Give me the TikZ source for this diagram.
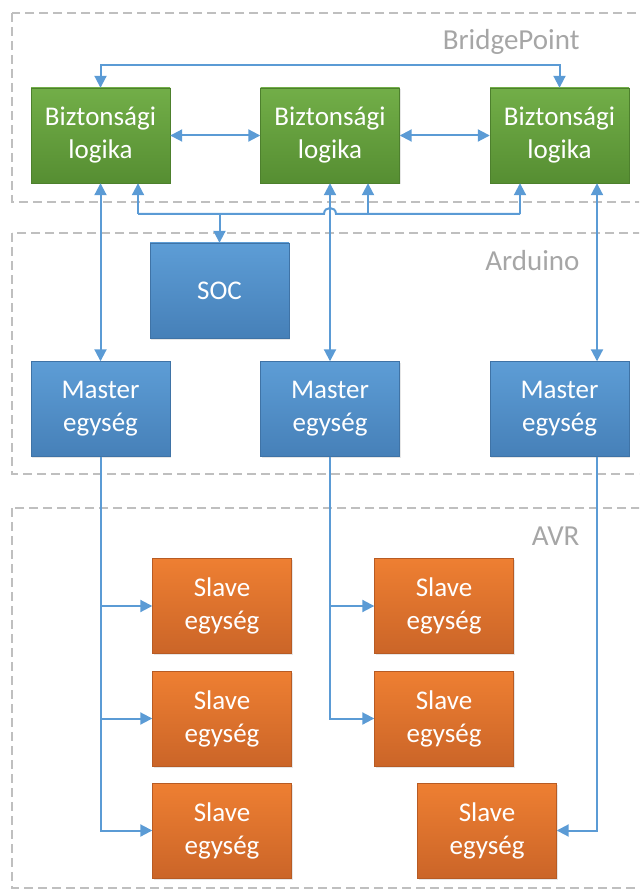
\documentclass[tikz,border=0pt]{standalone}
\usepackage{fontspec}
\setmainfont{Carlito}
\usetikzlibrary{arrows.meta,shadows}

\definecolor{linkblue}{RGB}{91,155,213}
\definecolor{framegray}{RGB}{191,191,191}
\definecolor{labelgray}{RGB}{166,166,166}
\definecolor{greentop}{RGB}{114,174,72}
\definecolor{greenbot}{RGB}{86,142,50}
\definecolor{bluetop}{RGB}{93,157,214}
\definecolor{bluebot}{RGB}{70,128,184}
\definecolor{orangetop}{RGB}{238,127,50}
\definecolor{orangebot}{RGB}{203,101,40}

\begin{document}
\begin{tikzpicture}[x=1pt, y=-1pt,
		unit/.style={minimum width=139pt, minimum height=95pt, inner sep=0pt, align=center,
			text=white, font=\fontsize{27}{33}\selectfont,
			drop shadow={opacity=0.2, shadow xshift=1pt, shadow yshift=-1.5pt}},
		logic/.style={unit, draw=greenbot!90!black, top color=greentop, bottom color=greenbot},
		master/.style={unit, draw=bluebot!90!black, top color=bluetop, bottom color=bluebot},
		slave/.style={unit, draw=orangebot!90!black, top color=orangetop, bottom color=orangebot},
		link/.style={draw=linkblue, line width=2pt, >={Triangle[width=12pt,length=12pt]}},
		frame/.style={draw=framegray, line width=1.2pt, dash pattern=on 9pt off 5pt},
		grouplabel/.style={text=labelgray, font=\fontsize{29}{34}\selectfont, anchor=base east}]
			\useasboundingbox (0,0) rectangle (639,890);
			
			% Dashed groups
			\begin{scope}
				\clip (0,0) rectangle (639,890);
				\draw[frame] (12,13) rectangle (660,202);
				\draw[frame] (12,233) rectangle (660,474);
				\draw[frame] (12,508) rectangle (660,888);
			\end{scope}
			\node[grouplabel] (lblBP) at (583,50) {BridgePoint};
			\node[grouplabel] (lblAR) at (583,270) {Arduino};
			\node[grouplabel] (lblAVR) at (583,545) {AVR};
			
			% Nodes - BridgePoint
			\node[logic] (BL1) at (100.5,135.5) {Biztonsági\\logika};
			\node[logic] (BL2) at (330,135.5) {Biztonsági\\logika};
			\node[logic] (BL3) at (559.5,135.5) {Biztonsági\\logika};
			
			% Nodes - Arduino
			\node[master] (SOC) at (219.5,290.5) {SOC};
			\node[master] (M1) at (100.5,409) {Master\\egység};
			\node[master] (M2) at (330,409) {Master\\egység};
			\node[master] (M3) at (559.5,409) {Master\\egység};
			
			% Nodes - AVR
			\node[slave] (S1) at (222,606) {Slave\\egység};
			\node[slave] (S2) at (222,718.5) {Slave\\egység};
			\node[slave] (S3) at (222,830.5) {Slave\\egység};
			\node[slave] (S4) at (444,606) {Slave\\egység};
			\node[slave] (S5) at (444,718.5) {Slave\\egység};
			\node[slave] (S6) at (487,830.5) {Slave\\egység};
			
			% Bus points
			\coordinate (busL) at (138,214);
			\coordinate (busS) at (219.5,214);
			\coordinate (busM) at (368,214);
			\coordinate (busR) at (520,214);
			
			% Edges - logic ring
			\draw[link,<->] (BL1.north) -- ++(0,-23) -| (BL3.north);
			\draw[link,<->] (BL1) -- (BL2); \draw[link,<->] (BL2) -- (BL3);
			
			% Edges - logic to master
			\draw[link,<->] (BL1) -- (M1); \draw[link,<->] (BL2) -- (M2);
			\draw[link,<->] ([xshift=37.5pt]BL3.south) -- ([xshift=37.5pt]M3.north);
			
			% Edges - SOC bus (hops over the middle line)
			\draw[link] (busL) -- (324,214) .. controls (324,206) and (336,206) .. (336,214) -- (busR);
			\draw[link,->] (busL) -- (busL |- BL1.south); \draw[link,->] (busM) -- (busM |- BL2.south);
			\draw[link,->] (busR) -- (busR |- BL3.south); \draw[link,->] (busS) -- (SOC);
			
			% Edges - master to slaves
			\draw[link,->] (M1) |- (S1); \draw[link,->] (M1) |- (S2); \draw[link,->] (M1) |- (S3);
			\draw[link,->] (M2) |- (S4); \draw[link,->] (M2) |- (S5);
			\draw[link,->] ([xshift=37.5pt]M3.south) |- (S6);
		\end{tikzpicture}
\end{document}
